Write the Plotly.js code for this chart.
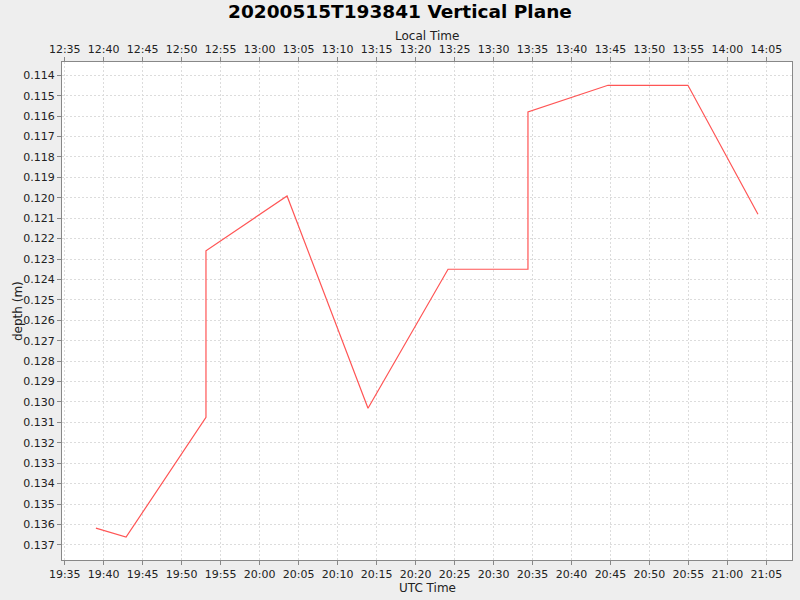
<!DOCTYPE html>
<html>
<head>
    <title>20200515T193841 Vertical Plane</title>
    <script src="https://cdn.plot.ly/plotly-3.0.1.min.js"></script>
    <style>
        html, body { margin: 0; padding: 0; background: #eeeeee; }
        #plot { width: 800px; height: 600px; }
    </style>
</head>
<body>
    <div id="plot"></div>
    <script>
        // sample times (UTC) and depths
        const utcTimes = [
            '2020-05-15 19:39:00', '2020-05-15 19:42:52', '2020-05-15 19:53:07',
            '2020-05-15 19:53:07', '2020-05-15 20:03:31', '2020-05-15 20:13:54',
            '2020-05-15 20:24:10', '2020-05-15 20:34:25', '2020-05-15 20:34:25',
            '2020-05-15 20:44:41', '2020-05-15 20:54:56', '2020-05-15 21:03:55'
        ];
        const depths = [
            0.13618, 0.13662, 0.13075, 0.12260, 0.11991, 0.13031,
            0.12350, 0.12350, 0.11580, 0.11449, 0.11449, 0.12081
        ];
        const utcRange = ['2020-05-15 19:34:39', '2020-05-15 21:08:17'];
        const localOffsetHours = -7;
        const depthRange = [0.13774, 0.11335];

        function shift(s, hours) {
            const d = new Date(s.replace(' ', 'T') + 'Z');
            d.setUTCHours(d.getUTCHours() + hours);
            return d.toISOString().slice(0, 19).replace('T', ' ');
        }

        const font = 'DejaVu Sans, sans-serif';
        const labelFont = { family: font, size: 12, color: '#222' };
        const axisCommon = {
            type: 'date',
            dtick: 300000,
            tickformat: '%H:%M',
            ticks: 'outside',
            ticklen: 4,
            tickcolor: '#888888',
            showline: true,
            linecolor: '#888888',
            linewidth: 1,
            showgrid: true,
            gridcolor: '#dcdcdc',
            griddash: '2px,2px',
            zeroline: false,
            tickfont: { family: font, size: 11, color: '#222' }
        };

        const data = [{
            x: utcTimes,
            y: depths,
            type: 'scatter',
            mode: 'lines',
            line: { color: '#ff5555', width: 1.2 },
            hoverinfo: 'x+y'
        }, {
            // same samples in local time, only to carry the top axis
            x: utcTimes.map(s => shift(s, localOffsetHours)),
            y: depths,
            xaxis: 'x2',
            type: 'scatter',
            mode: 'lines',
            line: { color: 'rgba(0,0,0,0)', width: 0 },
            opacity: 0,
            hoverinfo: 'skip'
        }];

        // axis titles placed by hand (plot area is 730 x 498 px)
        const axisTitle = (text, x, y, angle) => ({
            text: text, textangle: angle || 0,
            xref: 'paper', yref: 'paper', x: x, y: y,
            xanchor: 'center', yanchor: 'middle',
            showarrow: false, borderpad: 0, font: labelFont
        });

        const layout = {
            width: 800,
            height: 600,
            paper_bgcolor: '#eeeeee',
            plot_bgcolor: '#ffffff',
            showlegend: false,
            margin: { l: 62, r: 8, t: 62, b: 40 },
            font: labelFont,
            title: {
                text: '<b>20200515T193841 Vertical Plane</b>',
                font: { family: font, size: 18.5, color: '#000' },
                x: 0.5, xanchor: 'center',
                y: 0.98, yanchor: 'middle'
            },
            xaxis: Object.assign({}, axisCommon, {
                range: utcRange,
                tick0: '2020-05-15 19:35:00',
                mirror: true
            }),
            xaxis2: Object.assign({}, axisCommon, {
                overlaying: 'x',
                side: 'top',
                anchor: 'y',
                range: utcRange.map(s => shift(s, localOffsetHours)),
                tick0: shift('2020-05-15 19:35:00', localOffsetHours),
                showgrid: false
            }),
            yaxis: {
                range: depthRange,
                dtick: 0.001,
                tick0: 0.114,
                tickformat: '.3f',
                ticks: 'outside',
                ticklen: 4,
                tickcolor: '#888888',
                showline: true,
                mirror: true,
                linecolor: '#888888',
                showgrid: true,
                gridcolor: '#dcdcdc',
                griddash: '2px,2px',
                zeroline: false,
                tickfont: { family: font, size: 11, color: '#222' }
            },
            annotations: [
                axisTitle('Local Time', 0.5, (560 - 36) / 498),
                axisTitle('UTC Time', 0.5, (560 - 588) / 498),
                axisTitle('depth (m)', -44 / 730, 0.5, -90)
            ]
        };

        Plotly.newPlot('plot', data, layout, { displayModeBar: false, staticPlot: true });
    </script>
</body>
</html>
